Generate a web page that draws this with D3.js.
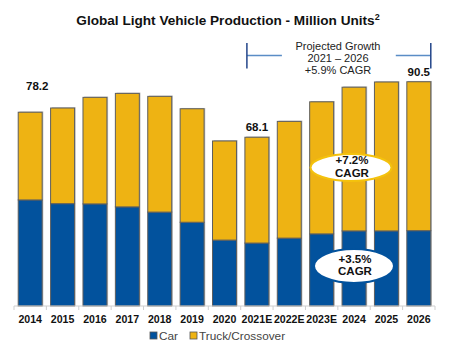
<!DOCTYPE html>
<html>
<head>
<meta charset="utf-8">
<script src="https://cdn.jsdelivr.net/npm/d3@7"></script>
<style>
  html, body { margin: 0; padding: 0; background: #fff; }
  svg { display: block; font-family: "Liberation Sans", Arial, sans-serif; }
</style>
</head>
<body>
<svg id="chart" width="457" height="348"></svg>
<script>
// Global light vehicle production, million units
const years = ["2014", "2015", "2016", "2017", "2018", "2019", "2020",
               "2021E", "2022E", "2023E", "2024", "2025", "2026"];
const totalUnits = [78.2, 79.9, 84.2, 85.8, 84.6, 79.6, 66.6, 68.1, 74.5, 82.4, 88.3, 90.4, 90.5];
const carUnits   = [42.8, 41.3, 41.2, 40.0, 37.9, 33.8, 26.6, 25.4, 27.4, 29.1, 30.3, 30.3, 30.4];
const truckUnits = totalUnits.map((t, i) => +(t - carUnits[i]).toFixed(1));
const labelledYears = ["2014", "2021E", "2026"];
const seriesNames = ["Car", "Truck/Crossover"];
const bracketText = ["Projected Growth", "2021 \u2013 2026", "+5.9% CAGR"];
const truckCagr = ["+7.2%", "CAGR"];
const carCagr = ["+3.5%", "CAGR"];

const BLUE = "#02529d";
const GOLD = "#eeb313";

const svg = d3.select("#chart");

const x = d3.scaleBand().domain(years).range([14, 435])
  .paddingInner(0.26).paddingOuter(0.13);
const y = d3.scaleLinear().domain([0, 100]).range([306, 58.2]);

const rows = years.map((yr, i) => ({ year: yr, Car: carUnits[i], Truck: truckUnits[i], total: totalUnits[i] }));
const stack = d3.stack().keys(["Car", "Truck"])(rows);
const colors = { Car: BLUE, Truck: GOLD };

// Title
const title = svg.append("text")
  .attr("x", 228).attr("y", 25)
  .attr("text-anchor", "middle")
  .attr("font-size", 13.6).attr("font-weight", "bold").attr("fill", "#111");
title.append("tspan").text("Global Light Vehicle Production - Million Units");
title.append("tspan").attr("font-size", 9).attr("dy", -5).text("2");

// Bar shadows
svg.append("g").selectAll("rect").data(rows).join("rect")
  .attr("x", d => x(d.year) + 1.2)
  .attr("y", d => y(d.total) - 0.8)
  .attr("width", x.bandwidth())
  .attr("height", d => y(0) - y(d.total) + 0.8)
  .attr("fill", "#c4c4c4");

// Stacked bars
svg.append("g").selectAll("g").data(stack).join("g")
  .attr("fill", s => colors[s.key])
  .selectAll("rect").data(s => s).join("rect")
  .attr("x", d => x(d.data.year))
  .attr("y", d => y(d[1]))
  .attr("width", x.bandwidth())
  .attr("height", d => y(d[0]) - y(d[1]))
  .attr("stroke", "#5e5e5e").attr("stroke-width", 1);

// X axis baseline with category separators
const axisG = svg.append("g").attr("transform", `translate(0,${y(0)})`);
axisG.append("line").attr("x1", 14).attr("x2", 435)
  .attr("stroke", "#cfcfcf").attr("stroke-width", 1.2);
const step = x.step();
const edges = d3.range(years.length + 1).map(i => 14 + i * step);
axisG.selectAll("line.sep").data(edges).join("line").attr("class", "sep")
  .attr("x1", d => d).attr("x2", d => d).attr("y1", 0).attr("y2", 4)
  .attr("stroke", "#cfcfcf").attr("stroke-width", 1);
axisG.selectAll("text").data(years).join("text")
  .attr("x", d => x(d) + x.bandwidth() / 2)
  .attr("y", 17)
  .attr("text-anchor", "middle")
  .attr("font-size", 10.6).attr("font-weight", "bold").attr("fill", "#111")
  .text(d => d);

// Total value labels
const labelNudge = { "2014": [7, -16] };
svg.append("g").selectAll("text")
  .data(rows.filter(r => labelledYears.includes(r.year))).join("text")
  .attr("x", d => x(d.year) + x.bandwidth() / 2 + (labelNudge[d.year] ? labelNudge[d.year][0] : 0))
  .attr("y", d => y(d.total) - 6 + (labelNudge[d.year] ? labelNudge[d.year][1] : 0))
  .attr("text-anchor", "middle")
  .attr("font-size", 11.5).attr("font-weight", "bold").attr("fill", "#111")
  .text(d => d.total.toFixed(1));

// Projected growth bracket
const bx0 = x("2021E") + 2, bx1 = x("2026") + x.bandwidth();
const br = svg.append("g");
br.append("line").attr("x1", bx0).attr("x2", bx0 + 35).attr("y1", 55.5).attr("y2", 55.5)
  .attr("stroke", "#5a8dc6").attr("stroke-width", 1.5);
br.append("line").attr("x1", bx1 - 35).attr("x2", bx1).attr("y1", 55.5).attr("y2", 55.5)
  .attr("stroke", "#5a8dc6").attr("stroke-width", 1.5);
[bx0, bx1].forEach(bx => br.append("line")
  .attr("x1", bx).attr("x2", bx).attr("y1", 43).attr("y2", 68.5)
  .attr("stroke", "#23458a").attr("stroke-width", 1.5));
br.selectAll("text").data(bracketText).join("text")
  .attr("x", 338).attr("y", (d, i) => 49.5 + i * 12.3)
  .attr("text-anchor", "middle")
  .attr("font-size", 11).attr("fill", "#222")
  .text(d => d);

// CAGR callouts
function callout(cx, cy, rx, ry, stroke, lines, gap) {
  const g = svg.append("g");
  g.append("ellipse").attr("cx", cx).attr("cy", cy).attr("rx", rx).attr("ry", ry)
    .attr("fill", "#fff").attr("stroke", stroke).attr("stroke-width", 2);
  g.selectAll("text").data(lines).join("text")
    .attr("x", cx + 1).attr("y", (d, i) => cy - 1 + (i - 0.5) * gap + 4)
    .attr("text-anchor", "middle")
    .attr("font-size", 11.5).attr("font-weight", "bold").attr("fill", "#111")
    .text(d => d);
}
callout(351, 167.5, 40.5, 13.5, "#f4c20d", truckCagr, 13.5);
callout(354, 266, 40, 17, BLUE, carCagr, 12.5);

// Legend
const legend = svg.append("g").attr("transform", "translate(150,336)");
const legendItems = [{ name: seriesNames[0], color: BLUE, dx: 0 }, { name: seriesNames[1], color: GOLD, dx: 40 }];
legendItems.forEach(it => {
  legend.append("rect").attr("x", it.dx).attr("y", -4).attr("width", 7).attr("height", 7)
    .attr("fill", it.color).attr("stroke", "#555").attr("stroke-width", 0.8);
  legend.append("text").attr("x", it.dx + 9).attr("y", 4)
    .attr("font-size", 11.8).attr("fill", "#444").text(it.name);
});
</script>
</body>
</html>
